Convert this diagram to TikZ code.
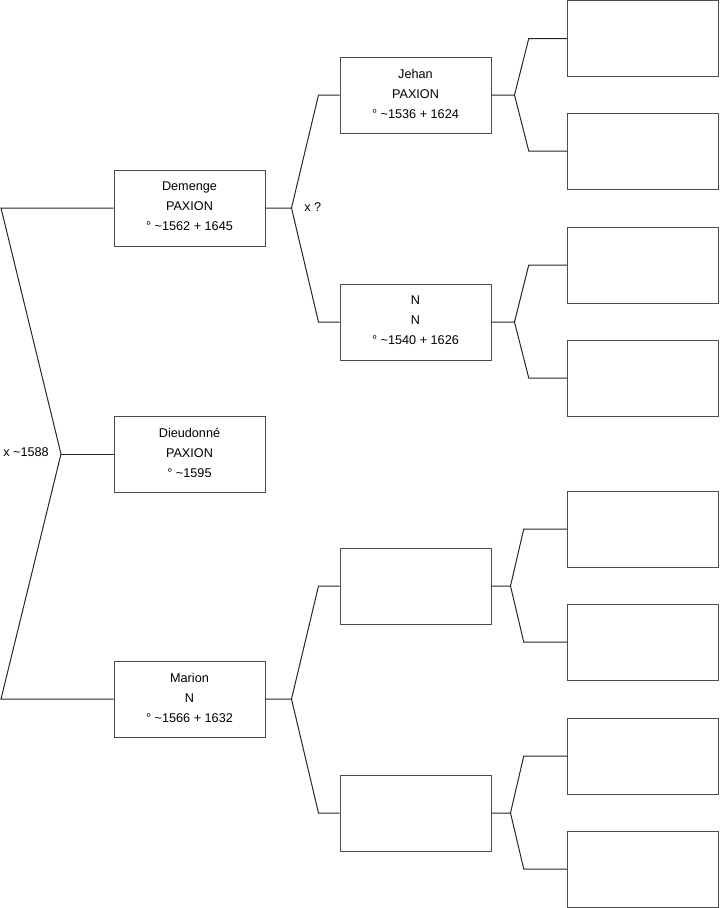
\documentclass[tikz,border=0pt]{standalone}
\usepackage{fontspec}
\setmainfont{Liberation Sans}
\usetikzlibrary{calc}

\tikzset{
  person/.style={
    rectangle,
    draw=black!70,
    fill=white,
    line width=0.75pt,
    minimum width=113.25pt,
    minimum height=57pt,
    inner sep=0pt,
    text depth=2.2pt,
    align=center,
    font=\fontsize{9.5}{15}\selectfont
  },
  link/.style={
    draw=black!85,
    line width=0.75pt
  },
  union/.style={
    anchor=west,
    inner sep=0pt,
    font=\fontsize{9.5}{11}\selectfont
  }
}

% fork from a person to both parents
\newcommand{\parents}[5]{%
  \draw[link] (#1.east) -- ++(#4,0) coordinate (#1-f)
    -- ($(#2.west)+(-#5,0)$) -- (#2.west);
  \draw[link] (#1-f) -- ($(#3.west)+(-#5,0)$) -- (#3.west);
}

\begin{document}
\begin{tikzpicture}[x=0.75pt, y=-0.75pt]
  \useasboundingbox (0,0) rectangle (719,908);

  % children
  \node[person] (demenge) at (189.5,208) {Demenge\\PAXION\\° \textasciitilde1562 + 1645};
  \node[person] (dieu) at (189.5,454) {Dieudonné\\PAXION\\° \textasciitilde1595};
  \node[person] (marion) at (189.5,699) {Marion\\N\\° \textasciitilde1566 + 1632};

  % parents
  \node[person] (jehan) at (415.5,95) {Jehan\\PAXION\\° \textasciitilde1536 + 1624};
  \node[person] (nn) at (415.5,322) {N\\N\\° \textasciitilde1540 + 1626};
  \node[person] (mf) at (415.5,586) {};
  \node[person] (mm) at (415.5,813) {};

  % grandparents
  \foreach \i/\y in {1/38.5, 2/151, 3/265, 4/378, 5/529, 6/642, 7/756, 8/869}
    \node[person] (gp\i) at (642.75,\y) {};

  % siblings
  \coordinate (e0) at (1,0);
  \coordinate (f0) at (61,454);
  \draw[link] (demenge.west) -- (demenge.west -| e0) -- (f0)
    -- (marion.west -| e0) -- (marion.west);
  \draw[link] (f0) -- (dieu.west);
  \node[union] at (3,452) {x \textasciitilde1588};

  \parents{demenge}{jehan}{nn}{26}{21}
  \node[union] at (304,207) {x ?};
  \parents{marion}{mf}{mm}{26}{21}

  \parents{jehan}{gp1}{gp2}{23}{38}
  \parents{nn}{gp3}{gp4}{23}{38}
  \parents{mf}{gp5}{gp6}{19}{43}
  \parents{mm}{gp7}{gp8}{19}{43}
\end{tikzpicture}
\end{document}
